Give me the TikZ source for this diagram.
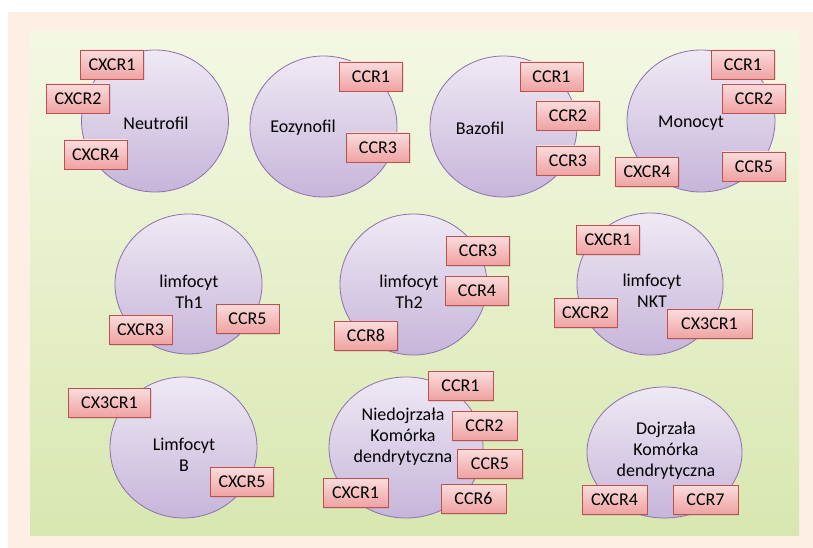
\documentclass[tikz,border=0pt]{standalone}
\usepackage{fontspec}
\setmainfont{Carlito}
\usetikzlibrary{shapes.geometric,shadows}
\definecolor{cream}{HTML}{FDEFE3}
\definecolor{bgtop}{HTML}{F4F8E4}
\definecolor{bgbot}{HTML}{D8E7B0}
\definecolor{celltop}{HTML}{EFE9F4}
\definecolor{cellbot}{HTML}{C6B5DA}
\definecolor{cellline}{HTML}{8A70AC}
\definecolor{rectop}{HTML}{FBDCDC}
\definecolor{recbot}{HTML}{EFA2A2}
\definecolor{recline}{HTML}{C0504D}
\tikzset{cell/.style={ellipse, draw=cellline, thick, top color=celltop, bottom color=cellbot, inner sep=0pt},
         cname/.style={align=center, font=\fontsize{18}{21}\selectfont, text=black},
         rec/.style={draw=recline, thick, top color=rectop, bottom color=recbot, minimum width=63pt, minimum height=29pt, inner xsep=6pt, inner ysep=0pt, font=\fontsize{18}{21}\selectfont, text=black, drop shadow={opacity=0.2, shadow xshift=1pt, shadow yshift=-1.5pt}},
         wide/.style={minimum width=82pt}}

\begin{document}
\begin{tikzpicture}[x=1pt, y=-1pt]
\useasboundingbox (0,0) rectangle (813,548);
\fill[cream] (8,12) rectangle (813,548);
\shade[top color=bgtop, bottom color=bgbot] (30,32) rectangle (799,535);
\node[cell, minimum width=147pt, minimum height=142pt] (neutrofil) at (155,121) {};
\node[cell, minimum width=147pt, minimum height=141pt] (eozynofil) at (323.5,126.5) {};
\node[cell, minimum width=147pt, minimum height=141pt] (bazofil) at (503.5,126.5) {};
\node[cell, minimum width=148pt, minimum height=142pt] (monocyt) at (701,121) {};
\node[cell, minimum width=147pt, minimum height=140pt] (th1) at (188.5,284) {};
\node[cell, minimum width=147pt, minimum height=141pt] (th2) at (413.5,284.5) {};
\node[cell, minimum width=146pt, minimum height=142pt] (nkt) at (650,284) {};
\node[cell, minimum width=147pt, minimum height=141pt] (limfb) at (183.5,447.5) {};
\node[cell, minimum width=154pt, minimum height=141pt] (niedojrz) at (406,447.5) {};
\node[cell, minimum width=155pt, minimum height=131pt] (dojrz) at (664.5,452.5) {};
\node[cname] (neutrofilT) at (156,123) {Neutrofil};
\node[cname] (eozynofilT) at (303,128) {Eozynofil};
\node[cname] (bazofilT) at (480,128) {Bazofil};
\node[cname] (monocytT) at (691,123) {Monocyt};
\node[cname] (th1T) at (189,291.5) {limfocyt\\Th1};
\node[cname] (th2T) at (409,291.5) {limfocyt\\Th2};
\node[cname] (nktT) at (652,290.5) {limfocyt\\NKT};
\node[cname] (limfbT) at (184,455) {Limfocyt\\B};
\node[cname] (niedojrzT) at (403,437) {Niedojrzała\\Komórka\\dendrytyczna};
\node[cname] (dojrzT) at (666,451) {Dojrzała\\Komórka\\dendrytyczna};
\node[rec] (neuA) at (112,64.5) {CXCR1};
\node[rec] (neuB) at (78,98.5) {CXCR2};
\node[rec] (neuC) at (95.5,154.5) {CXCR4};
\node[rec] (eozA) at (371,76.5) {CCR1};
\node[rec] (eozB) at (378,147.5) {CCR3};
\node[rec] (bazA) at (551.5,76.5) {CCR1};
\node[rec] (bazB) at (568,115.5) {CCR2};
\node[rec] (bazC) at (568,160.5) {CCR3};
\node[rec] (monA) at (743,64.5) {CCR1};
\node[rec] (monB) at (754,98.5) {CCR2};
\node[rec] (monC) at (754,166.5) {CCR5};
\node[rec] (monD) at (647,172) {CXCR4};
\node[rec] (thaA) at (140.5,329.5) {CXCR3};
\node[rec] (thaB) at (247.5,318.5) {CCR5};
\node[rec] (thbA) at (478,250.5) {CCR3};
\node[rec] (thbB) at (477,290.5) {CCR4};
\node[rec] (thbC) at (366,335.5) {CCR8};
\node[rec] (nktA) at (608,239.5) {CXCR1};
\node[rec] (nktB) at (585.5,313) {CXCR2};
\node[rec, wide, minimum width=85pt] (nktC) at (709.5,324) {CX3CR1};
\node[rec, wide] (limA) at (109.5,402.5) {CX3CR1};
\node[rec] (limB) at (242,482) {CXCR5};
\node[rec, minimum width=65pt] (niedA) at (460.5,385.5) {CCR1};
\node[rec, minimum width=65pt] (niedB) at (484.5,425.5) {CCR2};
\node[rec, minimum width=65pt] (niedC) at (490,463.5) {CCR5};
\node[rec, minimum width=65pt] (niedD) at (473.5,498.5) {CCR6};
\node[rec, minimum width=65pt] (niedE) at (355.5,493) {CXCR1};
\node[rec, minimum width=65pt] (dojA) at (614.5,499.5) {CXCR4};
\node[rec, minimum width=65pt] (dojB) at (705.5,499.5) {CCR7};
\end{tikzpicture}
\end{document}
